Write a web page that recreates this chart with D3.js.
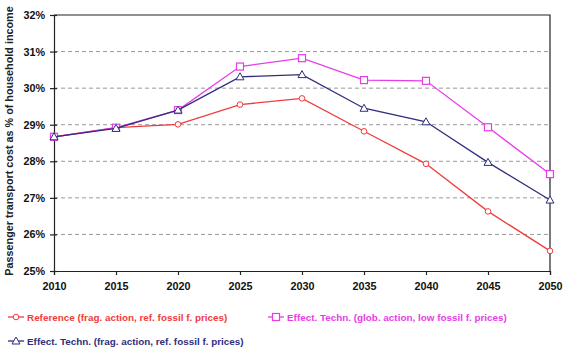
<!DOCTYPE html>
<html>
<head>
<meta charset="utf-8">
<script src="https://cdn.jsdelivr.net/npm/d3@7"></script>
<style>
  body { margin: 0; background: #fff; }
  svg text { font-family: "Liberation Sans", Arial, sans-serif; font-weight: bold; }
</style>
</head>
<body>
<script>
const years = [2010, 2015, 2020, 2025, 2030, 2035, 2040, 2045, 2050];
const yTicks = [25, 26, 27, 28, 29, 30, 31, 32];

const reference = [28.67, 28.92, 29.01, 29.55, 29.72, 28.82, 27.93, 26.63, 25.55];
const effGlob = [28.67, 28.92, 29.40, 30.59, 30.82, 30.22, 30.20, 28.93, 27.65];
const effFrag = [28.67, 28.90, 29.40, 30.31, 30.37, 29.45, 29.08, 27.97, 26.94];

const series = [
  { name: 'Reference (frag. action, ref. fossil f. prices)', values: reference, color: '#f03c3c', marker: 'circle' },
  { name: 'Effect. Techn. (glob. action, low fossil f. prices)', values: effGlob, color: '#e83ce8', marker: 'square' },
  { name: 'Effect. Techn. (frag. action, ref. fossil f. prices)', values: effFrag, color: '#2e2e7c', marker: 'triangle' }
];

const W = 577, H = 354;
const m = { left: 54, top: 15, right: 27, bottom: 83 };

const svg = d3.select('body').append('svg')
  .attr('width', W).attr('height', H);

const x = d3.scaleLinear().domain([2010, 2050]).range([m.left, W - m.right]);
const y = d3.scaleLinear().domain([25, 32]).range([H - m.bottom, m.top]);

// gridlines
svg.append('g')
  .selectAll('line')
  .data(yTicks.filter(t => t > 25 && t < 32))
  .enter().append('line')
    .attr('x1', x(2010)).attr('x2', x(2050))
    .attr('y1', d => y(d)).attr('y2', d => y(d))
    .attr('stroke', '#999').attr('stroke-width', 1)
    .attr('stroke-dasharray', '4,3');

// frame top/right
svg.append('path')
  .attr('d', `M${x(2010)},${y(32)}H${x(2050)}V${y(25)}`)
  .attr('fill', 'none').attr('stroke', '#222').attr('stroke-width', 1.2);

const xAxis = svg.append('g')
  .attr('transform', `translate(0,${y(25)})`)
  .call(d3.axisBottom(x).tickValues(years).tickFormat(d3.format('d')).tickSize(4).tickPadding(7));
xAxis.selectAll('text').attr('font-size', 10.8).attr('fill', '#111');

const yAxis = svg.append('g')
  .attr('transform', `translate(${x(2010)},0)`)
  .call(d3.axisLeft(y).tickValues(yTicks).tickFormat(d => d + '%').tickSize(4).tickPadding(5));
yAxis.selectAll('text').attr('font-size', 10.8).attr('fill', '#111');
yAxis.selectAll('.tick line').attr('x2', -4).attr('x1', 3);
svg.selectAll('.domain, .tick line').attr('stroke', '#222').attr('stroke-width', 1.2);

svg.append('text')
  .attr('transform', `translate(13,141) rotate(-90)`)
  .attr('text-anchor', 'middle')
  .attr('font-size', 10.8)
  .attr('fill', '#222')
  .text('Passenger transport cost as % of household income');

const line = d3.line().x((d, i) => x(years[i])).y(d => y(d));

function drawMarker(g, type, cx, cy, color) {
  if (type === 'circle') {
    g.append('circle').attr('cx', cx).attr('cy', cy).attr('r', 2.8)
      .attr('fill', '#fff').attr('stroke', color).attr('stroke-width', 1);
  } else if (type === 'square') {
    g.append('rect').attr('x', cx - 3.5).attr('y', cy - 3.5).attr('width', 7).attr('height', 7)
      .attr('fill', '#fff').attr('stroke', color).attr('stroke-width', 1.2);
  } else {
    g.append('path').attr('d', `M${cx},${cy - 4}L${cx + 4},${cy + 3}L${cx - 4},${cy + 3}Z`)
      .attr('fill', '#fff').attr('stroke', color).attr('stroke-width', 1);
  }
}

series.forEach(s => {
  const g = svg.append('g');
  g.append('path').datum(s.values)
    .attr('d', line).attr('fill', 'none')
    .attr('stroke', s.color).attr('stroke-width', 1.3);
  s.values.forEach((v, i) => drawMarker(g, s.marker, x(years[i]), y(v), s.color));
});

// legend
const legendPos = [[8, 317], [268, 317], [8, 341]];
series.forEach((s, i) => {
  const [lx, ly] = legendPos[i];
  const g = svg.append('g');
  g.append('line').attr('x1', lx).attr('x2', lx + 16).attr('y1', ly).attr('y2', ly)
    .attr('stroke', s.color).attr('stroke-width', 1.3);
  drawMarker(g, s.marker, lx + 8, ly, s.color);
  g.append('text').attr('x', lx + 19).attr('y', ly + 4)
    .attr('font-size', 9.9).attr('fill', s.color).text(s.name);
});
</script>
</body>
</html>
